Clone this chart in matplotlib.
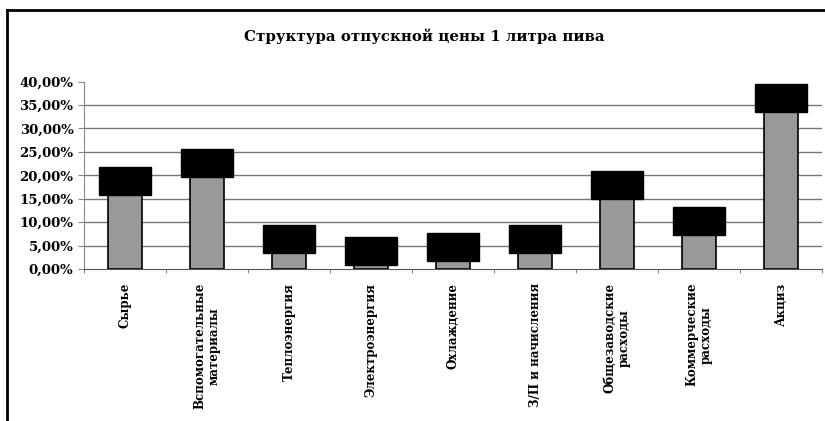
import matplotlib.pyplot as plt
from matplotlib.lines import Line2D
import numpy as np

# данные (доля в цене, %)
categories = ['Сырье', 'Вспомогательные\nматериалы', 'Теплоэнергия', 'Электроэнергия',
              'Охлаждение', 'З/П и начисления', 'Общезаводские\nрасходы',
              'Коммерческие\nрасходы', 'Акциз']
values = [15.8, 19.6, 3.4, 0.8, 1.7, 3.4, 14.9, 7.3, 33.5]
cap_height = 6.0  # высота черной "крышки" 3D столбца
title = 'Структура отпускной цены 1 литра пива'

plt.rcParams['font.family'] = ['DejaVu Serif']
plt.rcParams['font.weight'] = 'bold'

fig = plt.figure(figsize=(8.25, 4.21), dpi=100)
ax = fig.add_axes([84 / 825, 1 - 269 / 421, 738 / 825, 187.4 / 421])

x = np.arange(len(categories))
ax.bar(x, values, width=0.41, color='#999999', edgecolor='black', linewidth=1.2, zorder=3)
ax.bar(x, [cap_height] * len(values), bottom=values, width=0.63,
       color='black', edgecolor='black', zorder=4)

ax.set_xlim(-0.5, len(categories) - 0.5)
ax.set_ylim(0, 40)
ax.set_yticks(np.arange(0, 41, 5))
ax.yaxis.set_major_formatter(plt.FuncFormatter(lambda v, p: ('%.2f%%' % v).replace('.', ',')))
for g in np.arange(5, 40, 5):
    ax.axhline(g, color='#777777', linewidth=1, zorder=1)

# деления между категориями, подписи по центру
ax.set_xticks(np.arange(len(categories) + 1) - 0.5, minor=False)
ax.set_xticklabels([])
ax.set_xticks(x, minor=True)
ax.set_xticklabels(categories, minor=True, rotation=90, va='top', ha='center',
                   fontsize=8.6, fontweight='bold', multialignment='center')
ax.tick_params(axis='x', which='minor', length=0, pad=10)
ax.tick_params(axis='x', which='major', length=3, color='#888888')
ax.tick_params(axis='y', length=4, labelsize=9.5, color='#888888')

for s in ['top', 'right']:
    ax.spines[s].set_visible(False)
ax.spines['left'].set_color('#888888')
ax.spines['bottom'].set_color('#555555')

fig.text(424 / 825, 1 - 36 / 421, title, ha='center', va='center', fontsize=10.8, fontweight='bold')

# рамка картинки
fig.add_artist(Line2D([7 / 825, 7 / 825], [0, 1 - 10 / 421], color='black', linewidth=2, transform=fig.transFigure))
fig.add_artist(Line2D([7 / 825, 1], [1 - 10 / 421, 1 - 10 / 421], color='black', linewidth=2, transform=fig.transFigure))

fig.savefig('out.png', dpi=100)
